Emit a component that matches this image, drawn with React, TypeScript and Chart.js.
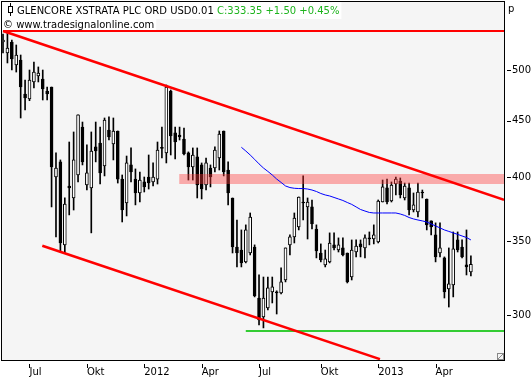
import React, { useEffect, useRef } from "react";
import { Chart, registerables } from "chart.js";

Chart.register(...registerables);

// Weekly candles, GLENCORE XSTRATA PLC (pence), May 2011 - May 2013
const openP = [
  530.1, 518.1, 530.1, 505.3, 510.5, 475.6, 470.7, 487.7, 493.8, 490.7,
  478.6, 482.6, 400.0, 412.8, 347.2, 392.6, 382.9, 401.7, 443.9, 393.4,
  391.0, 425.9, 429.4, 409.3, 441.2, 428.5, 440.3, 398.3, 379.0, 410.2,
  398.3, 386.9, 395.9, 400.0, 395.9, 398.3, 425.5, 420.6, 478.6, 438.5,
  436.6, 433.0, 420.6, 408.5, 417.1, 410.2, 393.4, 407.6, 407.6, 416.2,
  440.3, 405.9, 382.9, 345.7, 343.5, 335.1, 341.4, 345.7, 310.8, 298.8,
  304.4, 314.8, 314.8, 314.1, 322.7, 347.2, 353.0, 360.5, 379.7, 375.8,
  375.8, 358.9, 341.4, 333.0, 335.1, 347.2, 343.5, 345.0, 341.4, 324.7,
  342.1, 347.9, 345.0, 352.3, 351.5, 349.3, 379.7, 391.0, 380.5, 394.2,
  396.7, 382.9, 391.0, 373.4, 371.9, 387.7, 382.1, 365.0, 354.5, 341.4,
  337.9, 316.8, 319.4, 350.8, 345.7, 333.0, 328.2,
];
const highP = [
  539.0, 540.1, 532.3, 526.8, 515.9, 489.7, 500.0, 508.4, 503.2, 500.0,
  482.6, 482.6, 420.6, 414.5, 383.0, 430.3, 439.4, 455.3, 448.6, 427.7,
  439.4, 448.6, 443.9, 452.4, 453.4, 452.4, 440.3, 401.7, 417.9, 425.0,
  406.8, 404.2, 400.0, 418.8, 411.9, 430.3, 443.9, 484.6, 479.6, 443.9,
  443.9, 443.0, 421.5, 425.0, 425.0, 411.9, 416.2, 410.2, 425.9, 440.3,
  440.3, 412.8, 382.9, 365.7, 358.2, 362.0, 371.1, 347.2, 326.1, 324.7,
  324.7, 324.7, 315.5, 330.9, 345.0, 354.5, 371.1, 383.7, 400.9, 382.9,
  381.3, 362.0, 347.9, 343.5, 356.0, 356.0, 352.3, 352.3, 341.4, 350.8,
  350.8, 350.8, 354.5, 356.7, 362.0, 381.3, 397.5, 398.3, 395.9, 400.0,
  399.2, 395.0, 395.0, 386.9, 395.0, 389.3, 382.1, 365.0, 363.5, 363.5,
  338.6, 345.0, 356.7, 356.7, 350.8, 358.2, 339.3,
];
const lowP = [
  518.1, 507.4, 500.0, 497.9, 452.4, 460.0, 469.0, 481.6, 487.7, 469.7,
  469.7, 375.8, 353.0, 342.1, 341.4, 369.6, 373.4, 395.9, 410.2, 389.3,
  356.0, 412.8, 394.2, 400.9, 432.1, 414.5, 395.0, 364.2, 368.8, 395.9,
  377.4, 379.7, 387.7, 390.1, 392.6, 394.2, 416.2, 411.9, 418.8, 415.4,
  432.1, 418.8, 397.5, 397.5, 382.9, 382.1, 389.3, 391.8, 404.2, 405.9,
  400.9, 377.4, 341.4, 331.6, 331.6, 334.4, 340.0, 311.5, 293.9, 292.0,
  303.1, 307.6, 300.6, 313.5, 321.4, 340.0, 348.6, 358.2, 365.7, 351.5,
  358.9, 337.9, 335.1, 331.6, 334.4, 343.5, 342.1, 339.3, 320.7, 322.7,
  338.6, 338.6, 337.9, 347.2, 347.9, 348.6, 379.7, 378.1, 379.7, 385.3,
  382.9, 381.3, 369.6, 371.9, 368.0, 382.9, 358.2, 354.5, 335.1, 338.6,
  310.8, 305.0, 311.5, 342.1, 337.9, 326.1, 325.4,
];
const closeP = [
  532.3, 523.5, 511.6, 515.9, 482.6, 471.7, 489.7, 497.9, 496.9, 480.6,
  475.6, 408.5, 407.6, 348.6, 378.1, 391.0, 414.5, 455.3, 412.8, 403.4,
  422.3, 422.3, 403.4, 450.5, 434.8, 440.3, 398.3, 373.4, 411.9, 404.2,
  386.9, 397.5, 391.8, 395.0, 400.0, 423.2, 424.6, 482.6, 435.7, 430.3,
  434.8, 419.7, 408.5, 418.8, 393.4, 390.1, 411.9, 400.0, 423.2, 437.5,
  404.2, 386.9, 345.7, 341.4, 334.4, 358.2, 368.0, 312.1, 296.9, 310.8,
  317.4, 318.1, 314.1, 321.4, 345.0, 353.0, 367.2, 383.7, 378.9, 379.7,
  362.7, 342.8, 336.5, 337.2, 348.6, 345.0, 347.2, 340.0, 321.4, 343.5,
  346.4, 345.7, 352.3, 351.5, 354.5, 380.5, 391.8, 379.7, 393.4, 398.3,
  385.3, 392.6, 373.4, 377.4, 387.7, 386.9, 362.0, 360.5, 338.6, 345.0,
  314.8, 320.1, 344.3, 343.5, 338.6, 331.6, 333.35,
];

// moving average (blue), starting at week 54
const maFirstWeek = 54;
const maValues = [
  425.6, 422.3, 418.8, 415.0, 411.1, 407.6, 404.7, 401.7, 398.3, 395.5,
  392.6, 391.3, 390.7, 390.5, 390.5, 390.1, 389.3, 388.1, 386.5, 385.3,
  384.5, 383.3, 382.1, 380.9, 379.3, 377.8, 375.8, 373.8, 372.6, 371.5,
  371.1, 371.1, 371.1, 371.1, 371.1, 371.1, 370.3, 369.2, 367.6, 366.5,
  365.7, 365.0, 364.2, 362.7, 361.2, 359.7, 358.2, 357.1, 356.0, 354.9,
  353.7, 352.6, 350.8,
];

// drawing tools
const topLineWeeks = [0, 113.5];
const topLinePrices = [542.4, 542.4];
const resistWeeks = [0, 113.5];
const resistPrices = [542.4, 381.5];
const supportWeeks = [8.9, 85.4];
const supportPrices = [346.6, 273.6];
const greenWeeks = [55, 113.5];
const greenPrices = [290.2, 290.2];
const bandWeeks = [39.9, 113.5];
const bandTop = [402.5, 402.5];
const bandBottom = [394.2, 394.2];

// axes
const xTickWeeks = [6, 19, 32, 45, 58, 72, 85, 98];
const xTickLabels = ["Jul", "Okt", "2012", "Apr", "Jul", "Okt", "2013", "Apr"];
const yTickValues = [300, 350, 400, 450, 500];

const titleName = "GLENCORE XSTRATA PLC ORD USD0.01";
const titleQuote = "C:333.35 +1.50 +0.45%";
const watermark = "\u00A9 www.tradesignalonline.com";
const unitLabel = "p";

const FONT = "'DejaVu Sans'";

export default function App() {
  const ref = useRef<HTMLCanvasElement>(null);

  useEffect(() => {
    const canvas = ref.current;
    if (!canvas) return;

    const bodies = openP.map((o, i) => ({ x: i, y: [o, closeP[i]] }));
    const wicks = lowP.map((l, i) => ({ x: i, y: [l, highP[i]] }));
    const ma = maValues.map((v, k) => ({ x: maFirstWeek + k, y: v }));
    const seg = (xs: number[], ys: number[]) => xs.map((x, k) => ({ x, y: ys[k] }));

    const decor = {
      id: "decor",
      beforeDraw(chart: any) {
        const { ctx, chartArea: a } = chart;
        ctx.save();
        ctx.fillStyle = "#ffffff";
        ctx.fillRect(0, 0, chart.width, chart.height);
        ctx.fillStyle = "#f5f5f5";
        ctx.fillRect(a.left, a.top, a.right - a.left, a.bottom - a.top);
        ctx.restore();
      },
      afterDatasetsDraw(chart: any) {
        const { ctx } = chart;
        ctx.save();
        ctx.font = `10px ${FONT}`;
        ctx.textBaseline = "alphabetic";
        const wName = ctx.measureText(titleName + " ").width;
        const wQuote = ctx.measureText(titleQuote).width;
        const wMark = ctx.measureText(watermark).width;
        ctx.fillStyle = "#ffffff";
        ctx.fillRect(2, 2, 17 + wName + wQuote, 17);
        ctx.fillRect(2, 19, wMark + 3, 11);
        // icon
        ctx.fillStyle = "#000";
        ctx.fillRect(10, 3, 1, 13);
        ctx.fillStyle = "#fff";
        ctx.fillRect(8, 6, 5, 7);
        ctx.strokeStyle = "#000";
        ctx.lineWidth = 1;
        ctx.strokeRect(8.5, 6.5, 4, 6);
        ctx.fillStyle = "#000";
        ctx.fillText(titleName, 17, 14);
        ctx.fillStyle = "#1eb41e";
        ctx.fillText(titleQuote, 17 + wName, 14);
        ctx.fillStyle = "#000";
        ctx.fillText(watermark, 3, 28);
        ctx.restore();
      },
      afterDraw(chart: any) {
        const { ctx } = chart;
        const xs = chart.scales.x;
        const ys = chart.scales.y;
        ctx.save();
        ctx.fillStyle = "#000";
        ctx.fillRect(1, 1, 504, 1);
        ctx.fillRect(1, 1, 1, 360);
        ctx.fillRect(504, 1, 1, 360);
        ctx.fillRect(1, 360, 504, 1);
        xTickWeeks.forEach((w) => {
          const px = Math.round(xs.getPixelForValue(w));
          ctx.fillRect(px, 364, 1, 4);
        });
        yTickValues.forEach((v) => {
          const py = Math.round(ys.getPixelForValue(v));
          ctx.fillRect(507, py, 4, 1);
        });
        ctx.font = `10px ${FONT}`;
        ctx.textBaseline = "alphabetic";
        ctx.fillText(unitLabel, 508, 12);
        // resize grip
        ctx.strokeStyle = "#888";
        ctx.lineWidth = 1;
        ctx.strokeRect(497.5, 353.5, 6, 6);
        ctx.beginPath();
        ctx.moveTo(497.5, 359.5);
        ctx.lineTo(503.5, 353.5);
        ctx.stroke();
        ctx.restore();
      },
    };

    const lineBase = {
      type: "line" as const,
      pointRadius: 0,
      pointHoverRadius: 0,
      tension: 0,
      fill: false,
    };

    const zeroPad = (s: any) => {
      s.paddingTop = 0;
      s.paddingBottom = 0;
      s.paddingLeft = 0;
      s.paddingRight = 0;
    };

    const chart = new Chart(canvas, {
      type: "bar",
      data: {
        datasets: [
          {
            ...lineBase,
            label: "top",
            data: seg(topLineWeeks, topLinePrices),
            borderColor: "#ff0000",
            borderWidth: 2,
            order: 0,
          },
          {
            ...lineBase,
            label: "resistance",
            data: seg(resistWeeks, resistPrices),
            borderColor: "#ff0000",
            borderWidth: 2.5,
            order: 0,
          },
          {
            ...lineBase,
            label: "support",
            data: seg(supportWeeks, supportPrices),
            borderColor: "#ff0000",
            borderWidth: 2.5,
            order: 0,
          },
          {
            ...lineBase,
            label: "green",
            data: seg(greenWeeks, greenPrices),
            borderColor: "#33cc33",
            borderWidth: 2,
            order: 0,
          },
          {
            ...lineBase,
            label: "ma",
            data: ma,
            borderColor: "#0000ff",
            borderWidth: 1,
            order: 0,
          },
          {
            ...lineBase,
            label: "bandTop",
            data: seg(bandWeeks, bandTop),
            borderColor: "transparent",
            borderWidth: 0,
            fill: "+1",
            backgroundColor: "rgba(255,57,57,0.4)",
            order: 1,
          },
          {
            ...lineBase,
            label: "bandBottom",
            data: seg(bandWeeks, bandBottom),
            borderColor: "transparent",
            borderWidth: 0,
            order: 1,
          },
          {
            type: "bar" as const,
            label: "body",
            data: bodies as any,
            barThickness: 3,
            grouped: false,
            borderWidth: 1,
            borderSkipped: false,
            minBarLength: 1,
            borderColor: "#000",
            backgroundColor: (c: any) =>
              closeP[c.dataIndex] >= openP[c.dataIndex] ? "#ffffff" : "#000000",
            order: 2,
          },
          {
            type: "bar" as const,
            label: "wick",
            data: wicks as any,
            barThickness: 1,
            grouped: false,
            borderWidth: 0,
            backgroundColor: "#000",
            order: 3,
          },
        ] as any,
      },
      options: {
        animation: false,
        responsive: false,
        devicePixelRatio: 1,
        events: [],
        layout: { padding: { left: 2, top: 2, right: 0, bottom: 0 } },
        plugins: {
          legend: { display: false },
          tooltip: { enabled: false },
          title: { display: false },
        },
        scales: {
          x: {
            type: "linear",
            min: -0.23,
            max: 113.5,
            offset: false,
            grid: { display: false, drawTicks: false, offset: false },
            border: { display: false },
            afterBuildTicks: (s: any) => {
              s.ticks = xTickWeeks.map((v) => ({ value: v }));
            },
            afterFit: (s: any) => {
              s.height = 20;
              zeroPad(s);
            },
            ticks: {
              align: "start",
              padding: 6,
              autoSkip: false,
              maxRotation: 0,
              color: "#000",
              font: { family: "DejaVu Sans", size: 10 },
              callback: (_v: any, i: number) => xTickLabels[i],
            },
          },
          y: {
            type: "logarithmic",
            position: "right",
            min: 273.1,
            max: 576.2,
            grid: { display: false, drawTicks: false },
            border: { display: false },
            afterBuildTicks: (s: any) => {
              s.ticks = yTickValues.map((v) => ({ value: v }));
            },
            afterFit: (s: any) => {
              s.width = 27;
              zeroPad(s);
            },
            ticks: {
              padding: 8,
              autoSkip: false,
              color: "#000",
              font: { family: "DejaVu Sans", size: 10 },
              callback: (v: any) => String(v),
            },
          },
        },
      } as any,
      plugins: [decor],
    });

    return () => chart.destroy();
  }, []);

  return (
    <div style={{ position: "absolute", left: 0, top: 0, width: 531, height: 380 }}>
      <canvas ref={ref} width={531} height={380} />
    </div>
  );
}
